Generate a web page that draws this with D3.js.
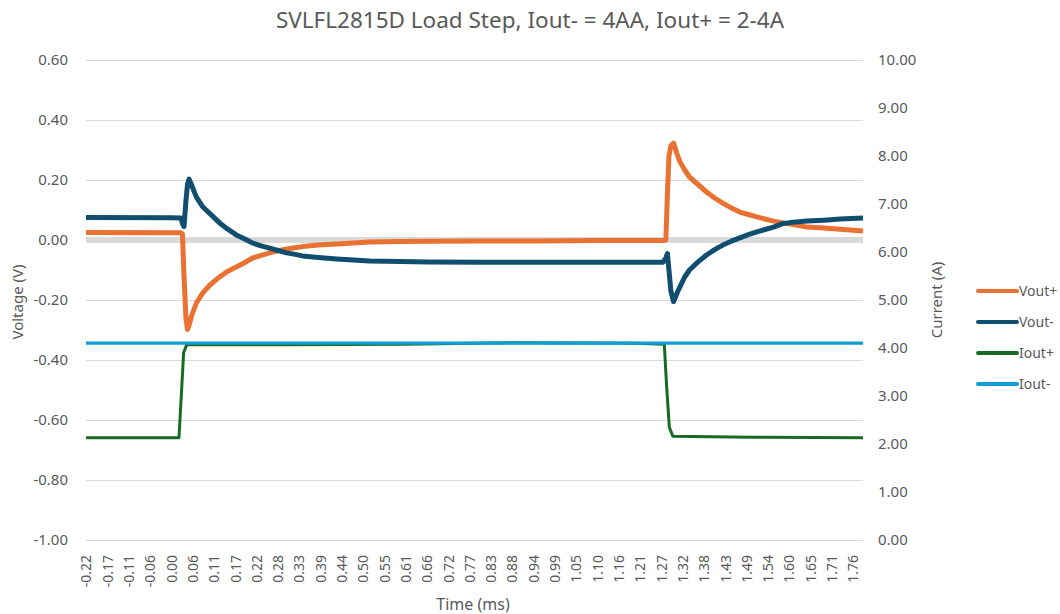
<!DOCTYPE html>
<html>
<head>
<meta charset="utf-8">
<script src="https://cdn.jsdelivr.net/npm/d3@7"></script>
<style>
  body { margin: 0; background: #fff; }
  text { font-family: 'Noto Sans', sans-serif; fill: #595959; }
</style>
</head>
<body>
<div id="chart"></div>
<script>
var width = 1060,
    height = 614;

var tV = [-0.22, 0.00, 0.025, 0.029, 0.033, 0.038, 0.042, 0.046, 0.052, 0.065, 0.081, 0.10, 0.125, 0.145,
    0.168, 0.19, 0.21, 0.23, 0.254, 0.276, 0.298, 0.32, 0.339, 0.38, 0.427, 0.47, 0.512, 0.59, 0.667,
    0.8, 0.95, 1.10, 1.20, 1.27, 1.277, 1.281, 1.285, 1.29, 1.297, 1.305, 1.313, 1.325, 1.338, 1.36,
    1.382, 1.403, 1.424, 1.446, 1.468, 1.49, 1.512, 1.533, 1.555, 1.577, 1.598, 1.62, 1.642, 1.685,
    1.727, 1.786];

var voutPos = [0.025, 0.024, 0.024, 0.020, -0.12, -0.26, -0.298, -0.285, -0.255, -0.21, -0.177, -0.15, -0.123, -0.105,
    -0.09, -0.075, -0.06, -0.052, -0.043, -0.036, -0.03, -0.026, -0.022, -0.017, -0.013, -0.01, -0.007, -0.005, -0.004,
    -0.003, -0.003, -0.002, -0.002, -0.002, 0.00, 0.15, 0.28, 0.315, 0.323, 0.29, 0.262, 0.235, 0.21, 0.185,
    0.16, 0.14, 0.123, 0.107, 0.093, 0.085, 0.077, 0.07, 0.063, 0.058, 0.053, 0.048, 0.043, 0.04,
    0.036, 0.03];

var voutNeg = [0.075, 0.074, 0.073, 0.055, 0.045, 0.13, 0.185, 0.203, 0.185, 0.143, 0.111, 0.088, 0.057, 0.037,
    0.017, 0.003, -0.01, -0.019, -0.027, -0.035, -0.043, -0.048, -0.053, -0.058, -0.063, -0.067, -0.07, -0.072, -0.073,
    -0.074, -0.074, -0.074, -0.074, -0.074, -0.06, -0.045, -0.10, -0.17, -0.205, -0.18, -0.157, -0.125, -0.10, -0.073,
    -0.05, -0.032, -0.017, -0.004, 0.007, 0.018, 0.027, 0.035, 0.043, 0.054, 0.058, 0.061, 0.063, 0.066,
    0.07, 0.073];

// current samples (A)
var tI = [-0.22, 0.02, 0.026, 0.032, 0.04, 0.3, 0.6, 0.9, 1.2, 1.273, 1.279, 1.286, 1.295, 1.5, 1.786];
var ioutPos = [2.13, 2.13, 3.0, 3.9, 4.07, 4.07, 4.08, 4.11, 4.10, 4.08, 3.2, 2.35, 2.16, 2.14, 2.13];
var ioutNeg = [4.10, 4.10, 4.10, 4.10, 4.10, 4.10, 4.10, 4.10, 4.10, 4.10, 4.10, 4.10, 4.10, 4.10, 4.10];

var timeTicks = d3.range(37).map(i => -0.22 + i * 0.055);
var timeLabels = ['-0.22', '-0.17', '-0.11', '-0.06', '0.00', '0.06', '0.11', '0.17', '0.22', '0.28', '0.33',
    '0.39', '0.44', '0.50', '0.55', '0.61', '0.66', '0.72', '0.77', '0.83', '0.88', '0.94', '0.99', '1.05',
    '1.10', '1.16', '1.21', '1.27', '1.32', '1.38', '1.43', '1.49', '1.54', '1.60', '1.65', '1.71', '1.76'];
var voltTicks = [-1.0, -0.8, -0.6, -0.4, -0.2, 0, 0.2, 0.4, 0.6];
var ampTicks = [0, 1, 2, 3, 4, 5, 6, 7, 8, 9, 10];

var seriesNames = ['Vout+', 'Vout-', 'Iout+', 'Iout-'];
var seriesColors = ['#E97132', '#0f4e6e', '#196B24', '#0F9ED5'];

var plot = {left: 86, right: 863, top: 60, bottom: 540};

var fmt = d => d.toFixed(2);

var svg = d3.select('#chart')
    .append('svg')
    .attr('width', width)
    .attr('height', height);

var x = d3.scaleLinear().domain([-0.22, 1.786]).range([plot.left, plot.right]);
var yV = d3.scaleLinear().domain([-1, 0.6]).range([plot.bottom, plot.top]);
var yI = d3.scaleLinear().domain([0, 10]).range([plot.bottom, plot.top]);

// gridlines
svg.append('g')
    .attr('transform', 'translate(' + plot.left + ',0)')
    .call(d3.axisLeft(yV).tickValues(voltTicks).tickSize(-(plot.right - plot.left)).tickFormat(''))
    .call(g => g.select('.domain').remove())
    .call(g => g.selectAll('line').attr('stroke', '#d9d9d9').attr('stroke-width', 1));

// category axis line sits at 0 V
svg.append('line')
    .attr('x1', plot.left)
    .attr('x2', plot.right)
    .attr('y1', yV(0))
    .attr('y2', yV(0))
    .attr('stroke', '#d9d9d9')
    .attr('stroke-width', 6);

// left axis
svg.append('g')
    .attr('transform', 'translate(' + plot.left + ',0)')
    .call(d3.axisLeft(yV).tickValues(voltTicks).tickSize(0).tickPadding(18).tickFormat(fmt))
    .call(g => g.select('.domain').remove())
    .call(g => g.selectAll('text').style('font-size', '15px').attr('fill', '#595959'));

// right axis
svg.append('g')
    .attr('transform', 'translate(' + plot.right + ',0)')
    .call(d3.axisRight(yI).tickValues(ampTicks).tickSize(0).tickPadding(15).tickFormat(fmt))
    .call(g => g.select('.domain').remove())
    .call(g => g.selectAll('text').style('font-size', '15px').attr('fill', '#595959'));

// time axis
svg.append('g')
    .attr('transform', 'translate(0,' + plot.bottom + ')')
    .call(d3.axisBottom(x).tickValues(timeTicks).tickSize(0).tickFormat((d, i) => timeLabels[i]))
    .call(g => g.select('.domain').remove())
    .call(g => g.selectAll('text')
        .style('font-size', '14px')
        .attr('fill', '#595959')
        .attr('transform', 'rotate(-90)')
        .attr('text-anchor', 'end')
        .attr('x', -15)
        .attr('y', 0)
        .attr('dy', '0.35em'));

var lineV = (vals) => d3.line().x((d, i) => x(tV[i])).y(d => yV(d))(vals);
var lineI = (vals) => d3.line().x((d, i) => x(tI[i])).y(d => yI(d))(vals);

var series = [
    {name: 'Vout+', d: lineV(voutPos), w: 5},
    {name: 'Vout-', d: lineV(voutNeg), w: 5},
    {name: 'Iout+', d: lineI(ioutPos), w: 3},
    {name: 'Iout-', d: lineI(ioutNeg), w: 3.2}
];

svg.append('g').selectAll('path')
    .data(series)
    .enter()
    .append('path')
    .attr('d', d => d.d)
    .attr('fill', 'none')
    .attr('stroke', (d, i) => seriesColors[i])
    .attr('stroke-width', d => d.w)
    .attr('stroke-linejoin', 'round');

// titles
svg.append('text')
    .attr('x', 530)
    .attr('y', 28)
    .attr('text-anchor', 'middle')
    .style('font-size', '22.5px')
    .text('SVLFL2815D Load Step, Iout- = 4AA, Iout+ = 2-4A');

svg.append('text')
    .attr('transform', 'translate(23,302)rotate(-90)')
    .attr('text-anchor', 'middle')
    .style('font-size', '15px')
    .text('Voltage (V)');

svg.append('text')
    .attr('transform', 'translate(942,300)rotate(-90)')
    .attr('text-anchor', 'middle')
    .style('font-size', '15px')
    .text('Current (A)');

svg.append('text')
    .attr('x', 473)
    .attr('y', 610)
    .attr('text-anchor', 'middle')
    .style('font-size', '16px')
    .text('Time (ms)');

// legend
var legend = svg.append('g').selectAll('g')
    .data(seriesNames)
    .enter()
    .append('g')
    .attr('transform', (d, i) => 'translate(978,' + (291 + i * 31) + ')');

legend.append('line')
    .attr('x1', 0)
    .attr('x2', 39)
    .attr('stroke', (d, i) => seriesColors[i])
    .attr('stroke-width', 4)
    .attr('stroke-linecap', 'round');

legend.append('text')
    .attr('x', 41)
    .attr('dy', '0.35em')
    .style('font-size', '14px')
    .text(d => d);
</script>
</body>
</html>
